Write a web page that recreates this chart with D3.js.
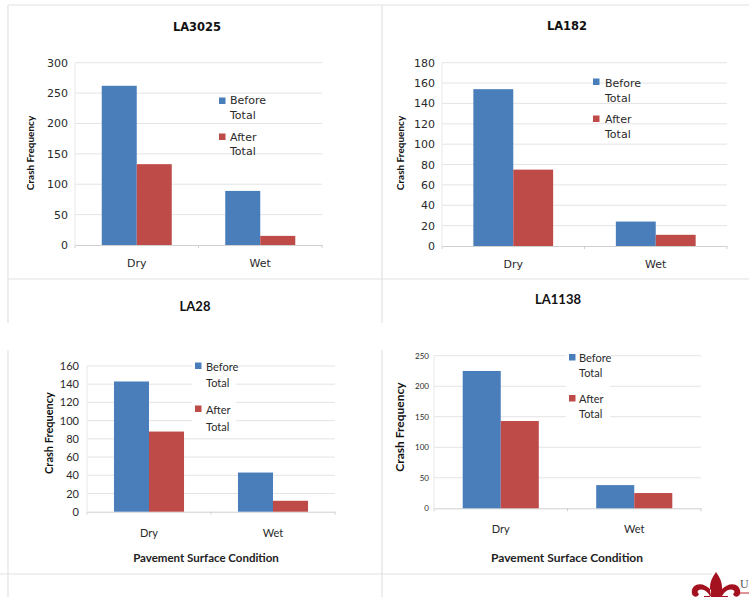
<!DOCTYPE html>
<html><head><meta charset="utf-8">
<script src="https://cdn.jsdelivr.net/npm/d3@7"></script>
<style>body{margin:0;background:#fff}svg{display:block}</style>
</head><body>
<svg id="c" width="749" height="597"></svg>
<script>
// ---- data ----
const roads = ["LA3025", "LA182", "LA28", "LA1138"];
const categories = ["Dry", "Wet"];
const seriesNames = ["Before Total", "After Total"];
const la3025Before = [262, 89];
const la3025After = [133, 15];
const la182Before = [154, 24];
const la182After = [75, 11];
const la28Before = [143, 43];
const la28After = [88, 12];
const la1138Before = [225, 38];
const la1138After = [143, 25];
const yTicks3025 = [0, 50, 100, 150, 200, 250, 300];
const yTicks182 = [0, 20, 40, 60, 80, 100, 120, 140, 160, 180];
const yTicks28 = [0, 20, 40, 60, 80, 100, 120, 140, 160];
const yTicks1138 = [0, 50, 100, 150, 200, 250];
const xTitle = "Pavement Surface Condition";
const yTitle = "Crash Frequency";
const colors = ["#4a7ebb", "#be4b48"];

const svg = d3.select("#c");

// frame lines
const frame = svg.append("g").attr("stroke", "#e2e2e2").attr("stroke-width", 1.2);
[[8,5,749,5],[8,5,8,323],[8,350,8,597],[382,5,382,323],[382,350,382,597],[8,279,749,279],[0,574,712,574]]
  .forEach(l => frame.append("line").attr("x1", l[0]).attr("y1", l[1]).attr("x2", l[2]).attr("y2", l[3]));

const panels = [
  {name: roads[0], before: la3025Before, after: la3025After, ticks: yTicks3025,
   x0: 75, x1: 322, yTop: 62.7, yBot: 245, frac: 0.567,
   font: "DejaVu Sans", tickSize: 11, tickX: 68, titleX: 197, titleY: 31, titleSize: 11.5,
   yLabX: 30, yLabY: 153, yLabSize: 10, yLabFont: "Lato", catY: 267, catSize: 11,
   legSq: 219, legTx: 230, legY: [104, 119, 141, 155], sqY: [97.5, 133.5], legSize: 11,
   legBox: null, xTitleY: null},
  {name: roads[1], before: la182Before, after: la182After, ticks: yTicks182,
   x0: 442, x1: 727, yTop: 62.7, yBot: 246, frac: 0.56,
   font: "DejaVu Sans", tickSize: 11, tickX: 435, titleX: 567, titleY: 30, titleSize: 11.5,
   yLabX: 400, yLabY: 153, yLabSize: 10, yLabFont: "Lato", catY: 268, catSize: 11,
   legSq: 593, legTx: 605, legY: [86.7, 101.7, 122.7, 137.7], sqY: [78.5, 115.5], legSize: 11,
   legBox: null, xTitleY: null},
  {name: roads[2], before: la28Before, after: la28After, ticks: yTicks28,
   x0: 87, x1: 335, yTop: 366, yBot: 511.7, frac: 0.565,
   font: "Lato", tickSize: 11, tickX: 79, titleX: 195, titleY: 311, titleSize: 13,
   yLabX: 49, yLabY: 433, yLabSize: 11, yLabFont: "Lato", catY: 537, catSize: 11,
   legSq: 195, legTx: 206, legY: [371, 387, 414, 431], sqY: [362.5, 405.5], legSize: 11,
   legBox: [192, 357, 44, 78], xTitleX: 206, xTitleY: 562, xTitleSize: 11.5},
  {name: roads[3], before: la1138Before, after: la1138After, ticks: yTicks1138,
   x0: 434, x1: 701, yTop: 355.7, yBot: 508.3, frac: 0.57,
   font: "Lato", tickSize: 8, tickX: 429, titleX: 558, titleY: 304, titleSize: 13,
   yLabX: 400, yLabY: 427, yLabSize: 12, yLabFont: "Lato", catY: 533, catSize: 11,
   legSq: 569, legTx: 579, legY: [362, 377, 403, 418], sqY: [354, 395], legSize: 11,
   legBox: [566, 350, 44, 73], xTitleX: 567, xTitleY: 562, xTitleSize: 12}
];

panels.forEach(p => {
  const g = svg.append("g");
  const yMax = d3.max(p.ticks);
  const y = d3.scaleLinear().domain([0, yMax]).range([p.yBot, p.yTop]);
  const x = d3.scaleBand().domain(categories).range([p.x0, p.x1]).padding(0);
  const gap = x.step() * (1 - p.frac) / 2;
  const xs = d3.scaleBand().domain(seriesNames).range([gap, x.step() - gap]).padding(0);

  // gridlines
  g.append("g").selectAll("line").data(p.ticks.filter(t => t > 0)).join("line")
    .attr("x1", p.x0).attr("x2", p.x1).attr("y1", d => y(d)).attr("y2", d => y(d))
    .attr("stroke", "#e4e4e4").attr("stroke-width", 1);
  // y axis line
  g.append("line").attr("x1", p.x0).attr("x2", p.x0).attr("y1", p.yTop).attr("y2", p.yBot)
    .attr("stroke", "#e8e8e8");
  // x axis
  const xAxis = d3.axisBottom(x).tickSize(0).tickFormat("");
  const xa = g.append("g").attr("transform", `translate(0,${p.yBot})`).call(xAxis);
  xa.select(".domain").attr("stroke", "#d0d0d0");
  // tick marks at category boundaries
  g.append("g").selectAll("line").data([p.x0, (p.x0 + p.x1) / 2, p.x1]).join("line")
    .attr("x1", d => d).attr("x2", d => d).attr("y1", p.yBot).attr("y2", p.yBot + 3)
    .attr("stroke", "#d0d0d0");

  // y tick labels via axis
  const yAxis = d3.axisLeft(y).tickValues(p.ticks).tickSize(0).tickPadding(0).tickFormat(d3.format("d"));
  const ya = g.append("g").attr("transform", `translate(${p.tickX},0)`).call(yAxis);
  ya.select(".domain").remove();
  ya.selectAll("text").attr("font-family", p.font).attr("font-size", p.tickSize)
    .attr("fill", "#2a2a2a");

  // bars
  const rows = categories.map((c, i) => ({c, vals: [p.before[i], p.after[i]]}));
  g.append("g").selectAll("g").data(rows).join("g")
    .attr("transform", d => `translate(${x(d.c)},0)`)
    .selectAll("rect").data(d => d.vals.map((v, j) => ({s: seriesNames[j], v, j}))).join("rect")
    .attr("x", d => xs(d.s)).attr("width", xs.bandwidth())
    .attr("y", d => y(d.v)).attr("height", d => y(0) - y(d.v))
    .attr("fill", d => colors[d.j]);

  // category labels
  g.append("g").selectAll("text").data(categories).join("text")
    .attr("x", d => x(d) + x.bandwidth() / 2).attr("y", p.catY)
    .attr("text-anchor", "middle").attr("font-family", p.font).attr("font-size", p.catSize)
    .attr("fill", "#2a2a2a").text(d => d);

  // title
  g.append("text").attr("x", p.titleX).attr("y", p.titleY).attr("text-anchor", "middle")
    .attr("font-family", p.font).attr("font-weight", "bold").attr("font-size", p.titleSize)
    .attr("fill", "#111").text(p.name);

  // y title
  g.append("text").attr("transform", `translate(${p.yLabX},${p.yLabY}) rotate(-90)`)
    .attr("text-anchor", "middle").attr("dy", "0.35em")
    .attr("font-family", p.yLabFont).attr("font-weight", "bold").attr("font-size", p.yLabSize)
    .attr("fill", "#111").text(yTitle);

  // x title
  if (p.xTitleY) {
    g.append("text").attr("x", p.xTitleX).attr("y", p.xTitleY).attr("text-anchor", "middle")
      .attr("font-family", p.font).attr("font-weight", "bold").attr("font-size", p.xTitleSize)
      .attr("fill", "#222").text(xTitle);
  }

  // legend
  if (p.legBox) {
    g.append("rect").attr("x", p.legBox[0]).attr("y", p.legBox[1])
      .attr("width", p.legBox[2]).attr("height", p.legBox[3]).attr("fill", "#fff");
  }
  seriesNames.forEach((s, j) => {
    g.append("rect").attr("x", p.legSq).attr("y", p.sqY[j]).attr("width", 6.5).attr("height", 6.5)
      .attr("fill", colors[j]);
    const parts = s.split(" ");
    parts.forEach((t, k) => {
      g.append("text").attr("x", p.legTx).attr("y", p.legY[j * 2 + k])
        .attr("font-family", p.font).attr("font-size", p.legSize).attr("fill", "#2a2a2a").text(t);
    });
  });
});

// logo (decorative)
const logo = svg.append("g").attr("transform", "translate(716,572)");
logo.append("path")
  .attr("d", "M0,0 C6,8 8,16 4,26 L-4,26 C-8,16 -6,8 0,0 Z M-5,18 C-14,8 -26,12 -24,22 C-22,26 -18,25 -17,22 C-20,20 -18,16 -12,18 C-8,20 -6,24 -5,26 Z M5,18 C14,8 26,12 24,22 C22,26 18,25 17,22 C20,20 18,16 12,18 C8,20 6,24 5,26 Z M-12,24 L12,24 L12,27 L-12,27 Z")
  .attr("fill", "#a3121e");
svg.append("text").attr("x", 740).attr("y", 588).attr("font-family", "Liberation Serif")
  .attr("font-size", 12).attr("fill", "#555").text("U");
svg.append("line").attr("x1", 740).attr("x2", 749).attr("y1", 593).attr("y2", 593)
  .attr("stroke", "#c0272d").attr("stroke-width", 1);
</script>
</body></html>
